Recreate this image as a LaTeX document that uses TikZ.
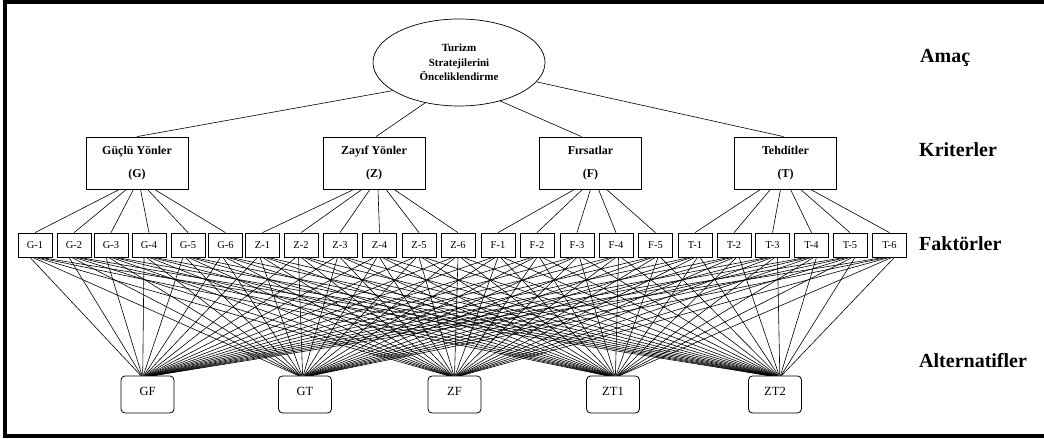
\documentclass[tikz,border=0pt]{standalone}
\usepackage{fontspec}
\setmainfont{Liberation Serif}
\usetikzlibrary{shapes.geometric}
\begin{document}
\begin{tikzpicture}[x=1pt,y=-1pt,
  goalbox/.style={draw, line width=0.7pt, ellipse, minimum width=172pt, minimum height=87pt, inner sep=0pt, align=center, font=\fontsize{11}{14.3}\selectfont\bfseries},
  crit/.style={draw, line width=0.8pt, minimum width=102pt, minimum height=52pt, inner sep=0pt, align=center, font=\fontsize{12}{23}\selectfont\bfseries},
  fac/.style={draw, line width=0.7pt, minimum width=34pt, minimum height=24pt, inner sep=0pt, font=\fontsize{10.5}{12}\selectfont},
  alt/.style={draw, line width=0.8pt, rounded corners=4pt, minimum width=53pt, minimum height=37pt, inner sep=0pt, text depth=6pt, font=\fontsize{12.5}{14}\selectfont},
  lvl/.style={anchor=base west, inner sep=0pt, font=\fontsize{20}{24}\selectfont\bfseries},
  link/.style={line width=0.6pt}]
\useasboundingbox (0,0) rectangle (1044,439);
\begin{scope}
\clip (0,0) rectangle (1044,439);
\draw[line width=4.5pt, line join=miter] (1060,2) -- (5,2) -- (5,436) -- (1060,436);
\end{scope}

\node[goalbox] (goal) at (459,62.5) {Turizm\\Stratejilerini\\Önceliklendirme};

\node[crit] (G) at (137,163) {Güçlü Yönler\\(G)};
\node[crit] (Z) at (374,163) {Zayıf Yönler\\(Z)};
\node[crit] (F) at (590.5,163) {Fırsatlar\\(F)};
\node[crit] (T) at (785.5,163) {Tehditler\\(T)};

\draw[link] (goal.203) -- (G.north);
\draw[link] (goal.230) -- ([xshift=2pt]Z.north);
\draw[link] (goal.317) -- ([xshift=-9pt]F.north);
\draw[link] (goal.346) -- ([xshift=-2pt]T.north);

\foreach \i/\x/\t in {1/35/G-1,2/74/G-2,3/111/G-3,4/149/G-4,5/188/G-5,6/225.5/G-6,
  7/262.5/Z-1,8/301/Z-2,9/340/Z-3,10/379.5/Z-4,11/419/Z-5,12/458/Z-6,
  13/498/F-1,14/537/F-2,15/577/F-3,16/616/F-4,17/655.5/F-5,
  18/695/T-1,19/734/T-2,20/772.5/T-3,21/811.5/T-4,22/850/T-5,23/889.5/T-6}
  \node[fac] (f\i) at (\x,245) {\t};

\foreach \k in {1,...,6} \draw[link] ([xshift={(\k-3.5)*7pt}]G.south) -- (f\k.north);
\foreach \k in {7,...,12} \draw[link] ([xshift={(\k-9.5)*8pt}]Z.south) -- (f\k.north);
\foreach \k in {13,...,17} \draw[link] ([xshift={(\k-15)*8pt}]F.south) -- (f\k.north);
\foreach \k in {18,...,23} \draw[link] ([xshift={(\k-20.5)*10pt}]T.south) -- (f\k.north);

\foreach \j/\x/\t in {1/147.5/GF,2/305/GT,3/454.5/ZF,4/613/ZT1,5/775/ZT2}
  \node[alt] (a\j) at (\x,394.5) {\t};

\foreach \i in {1,...,23}
  \foreach \j in {1,...,5}
    \draw[link] ([xshift={(\j-3)*2.5pt}]f\i.south) -- ([xshift={(\i-12)*0.6pt}]a\j.north);

\node[lvl] (l1) at (920,62.7) {Amaç};
\node[lvl] (l2) at (919,156) {Kriterler};
\node[lvl] (l3) at (919,250) {Faktörler};
\node[lvl] (l4) at (919,367) {Alternatifler};
\end{tikzpicture}
\end{document}
